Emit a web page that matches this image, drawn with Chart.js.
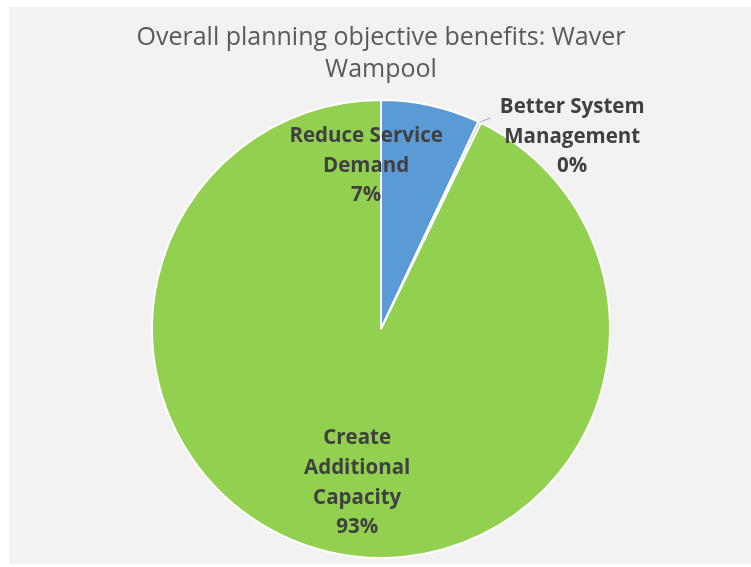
<!DOCTYPE html>
<html>
<head>
<meta charset="utf-8">
<script src="https://cdn.jsdelivr.net/npm/chart.js@4.4.0/dist/chart.umd.min.js"></script>
<style>
  html, body { margin: 0; padding: 0; background: #ffffff; }
  #wrap { width: 751px; height: 567px; position: relative; }
</style>
</head>
<body>
<div id="wrap"><canvas id="pieChart" width="751" height="567"></canvas></div>
<script>
  // benefit categories and their shares
  const categories = [
    ['Reduce Service', 'Demand'],
    ['Better System', 'Management'],
    ['Create', 'Additional', 'Capacity']
  ];
  const shares = [7, 0.2, 93];
  const sliceColors = ['#5B9BD5', '#A5A5A5', '#92D050'];

  // label placement, in units of the pie radius from its centre
  const labelSpots = [
    { dx: -0.065, dy: -0.713 },
    { dx: 0.835, dy: -0.839, leadX: 0.478, leadY: -0.922 },
    { dx: -0.104, dy: 0.672 }
  ];

  const fontFamily = '"Open Sans", Lato, sans-serif';

  // light grey panel behind the chart
  const panelBackground = {
    id: 'panelBackground',
    beforeDraw(chart) {
      const ctx = chart.ctx;
      ctx.save();
      ctx.fillStyle = '#F2F2F2';
      ctx.fillRect(9, 7, chart.width - 9, chart.height - 10);
      ctx.restore();
    }
  };

  // category name + percentage written over/near each slice
  const sliceLabels = {
    id: 'sliceLabels',
    afterDatasetsDraw(chart) {
      const ctx = chart.ctx;
      const arcs = chart.getDatasetMeta(0).data;
      const total = shares.reduce((a, b) => a + b, 0);
      ctx.save();
      ctx.font = 'bold 20.5px ' + fontFamily;
      ctx.fillStyle = '#404040';
      ctx.textAlign = 'center';
      ctx.textBaseline = 'middle';
      const lineH = 29.7;
      arcs.forEach(function(arc, i) {
        const cx = arc.x, cy = arc.y, r = arc.outerRadius;
        const spot = labelSpots[i];
        const lines = categories[i].concat([Math.round(shares[i] / total * 100) + '%']);
        const x = cx + spot.dx * r;
        const y = cy + spot.dy * r;
        const startY = y - (lines.length - 1) * lineH / 2;
        lines.forEach(function(t, k) {
          ctx.fillText(t, x, startY + k * lineH);
        });
        if (spot.leadX !== undefined) {
          const mid = (arc.startAngle + arc.endAngle) / 2;
          ctx.strokeStyle = '#A6A6A6';
          ctx.lineWidth = 1;
          ctx.beginPath();
          ctx.moveTo(cx + Math.cos(mid) * r, cy + Math.sin(mid) * r);
          ctx.lineTo(cx + spot.leadX * r, cy + spot.leadY * r);
          ctx.stroke();
        }
      });
      ctx.restore();
    }
  };

  const ctx = document.getElementById('pieChart').getContext('2d');
  new Chart(ctx, {
    type: 'pie',
    data: {
      labels: categories.map(c => c.join(' ')),
      datasets: [{
        data: shares,
        backgroundColor: sliceColors,
        borderColor: '#FFFFFF',
        borderWidth: 2
      }]
    },
    options: {
      responsive: false,
      animation: false,
      layout: { padding: { top: 3, bottom: 8, left: 11, right: 0 } },
      plugins: {
        legend: { display: false },
        tooltip: { enabled: false },
        title: {
          display: true,
          text: ['Overall planning objective benefits: Waver', 'Wampool'],
          color: '#595959',
          font: { family: fontFamily, size: 25, weight: 500, lineHeight: 1.25 },
          padding: { top: 19.5, bottom: 14 }
        }
      }
    },
    plugins: [panelBackground, sliceLabels]
  });
</script>
</body>
</html>
